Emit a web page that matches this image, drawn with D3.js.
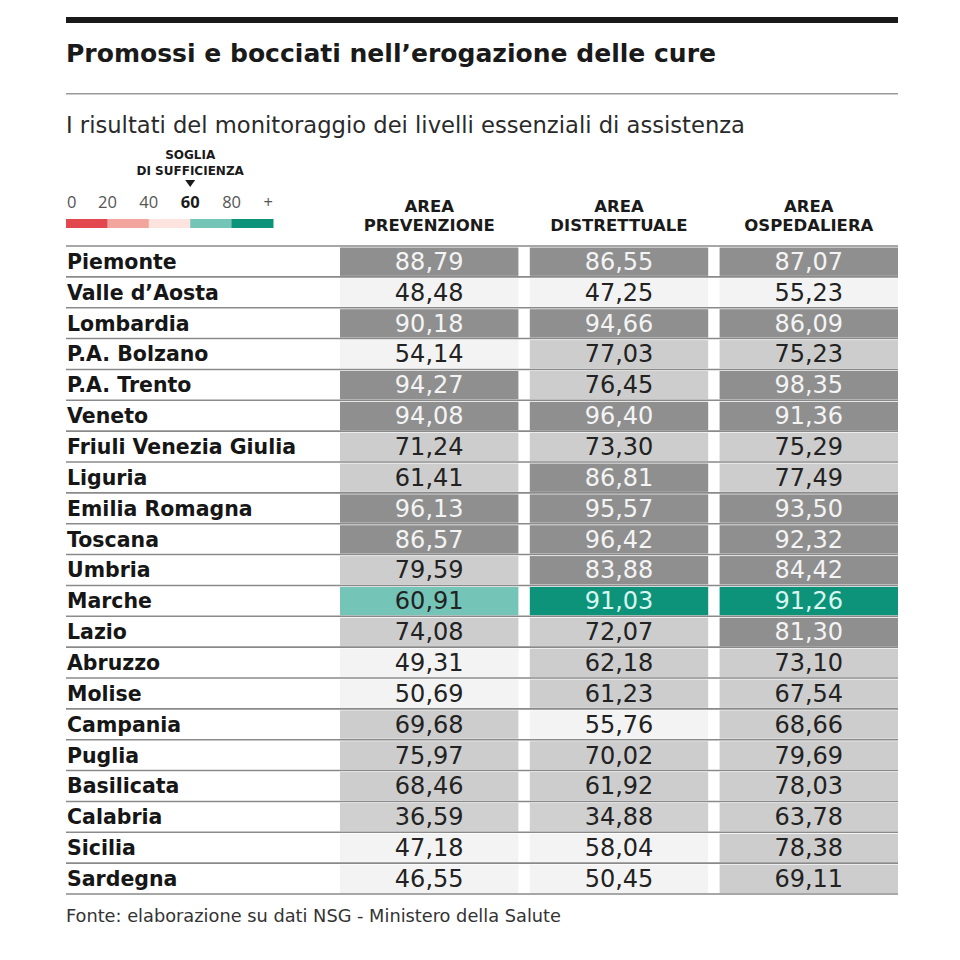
<!DOCTYPE html>
<html>
<head>
<meta charset="utf-8">
<script src="https://cdn.jsdelivr.net/npm/d3@7"></script>
<style>
  body { margin: 0; background: #fff; }
  svg { display: block; }
</style>
</head>
<body>
<div id="chart"></div>
<script>
const regions = ["Piemonte", "Valle d\u2019Aosta", "Lombardia", "P.A. Bolzano", "P.A. Trento", "Veneto",
    "Friuli Venezia Giulia", "Liguria", "Emilia Romagna", "Toscana", "Umbria", "Marche", "Lazio",
    "Abruzzo", "Molise", "Campania", "Puglia", "Basilicata", "Calabria", "Sicilia", "Sardegna"];
const areas = [["AREA", "PREVENZIONE"], ["AREA", "DISTRETTUALE"], ["AREA", "OSPEDALIERA"]];
const prevenzione = [88.79, 48.48, 90.18, 54.14, 94.27, 94.08, 71.24, 61.41, 96.13, 86.57, 79.59,
    60.91, 74.08, 49.31, 50.69, 69.68, 75.97, 68.46, 36.59, 47.18, 46.55];
const distrettuale = [86.55, 47.25, 94.66, 77.03, 76.45, 96.40, 73.30, 86.81, 95.57, 96.42, 83.88,
    91.03, 72.07, 62.18, 61.23, 55.76, 70.02, 61.92, 34.88, 58.04, 50.45];
const ospedaliera = [87.07, 55.23, 86.09, 75.23, 98.35, 91.36, 75.29, 77.49, 93.50, 92.32, 84.42,
    91.26, 81.30, 73.10, 67.54, 68.66, 79.69, 78.03, 63.78, 78.38, 69.11];
const highlighted = "Marche";
const legendLabels = ["0", "20", "40", "60", "80", "+"];
const thresholds = [20, 40, 60, 80];

// colour for the highlighted row, grey shades for the rest (scan of a colour print)
const legendColors = ["#e2484e", "#f2a59d", "#fde4de", "#74c5b8", "#0d937a"];
const greyColors = ["#b8b8b8", "#d0d0d0", "#f3f3f3", "#cdcdcd", "#8f8f8f"];
const colorScale = d3.scaleThreshold().domain(thresholds).range(legendColors);
const greyScale = d3.scaleThreshold().domain(thresholds).range(greyColors);

const it = d3.formatLocale({decimal: ",", thousands: ".", grouping: [3], currency: ["", "\u20ac"]});
const fmt = it.format(".2f");

const W = 960, H = 960;
const left = 66, right = 898;
const svg = d3.select("#chart").append("svg").attr("width", W).attr("height", H);

// header
svg.append("rect").attr("x", left).attr("y", 17).attr("width", right - left).attr("height", 6).attr("fill", "#1a1a1a");
svg.append("text").attr("x", left).attr("y", 62)
    .attr("font-family", "'DejaVu Sans Condensed', 'DejaVu Sans', sans-serif")
    .attr("font-weight", "bold").attr("font-size", 25).attr("fill", "#1a1a1a")
    .attr("textLength", 650).attr("lengthAdjust", "spacingAndGlyphs")
    .text("Promossi e bocciati nell\u2019erogazione delle cure");
svg.append("rect").attr("x", left).attr("y", 93).attr("width", right - left).attr("height", 1.5).attr("fill", "#9a9a9a");
svg.append("text").attr("x", left).attr("y", 133)
    .attr("font-family", "'Liberation Sans Narrow', 'DejaVu Sans Condensed', sans-serif")
    .attr("font-size", 23).attr("fill", "#2a2a2a")
    .attr("textLength", 679).attr("lengthAdjust", "spacingAndGlyphs")
    .text("I risultati del monitoraggio dei livelli essenziali di assistenza");

// legend
const lx = d3.scaleLinear().domain([0, 100]).range([66, 273]);
const legend = svg.append("g");
legend.selectAll("rect").data(legendColors).join("rect")
    .attr("x", (d, i) => lx(i * 20)).attr("y", 219)
    .attr("width", lx(20) - lx(0) + 0.5).attr("height", 9).attr("fill", d => d);
legend.selectAll("text.num").data(legendLabels).join("text").attr("class", "num")
    .attr("x", (d, i) => i === 0 ? lx(0) + 1 : (i === 5 ? lx(100) : lx(i * 20)))
    .attr("y", 208)
    .attr("text-anchor", (d, i) => i === 0 ? "start" : (i === 5 ? "end" : "middle"))
    .attr("font-family", "'Open Sans', sans-serif")
    .attr("font-size", 16.5)
    .attr("font-weight", d => d === "60" ? "bold" : "normal")
    .attr("fill", d => d === "60" ? "#1a1a1a" : "#555")
    .text(d => d);
const sx = lx(60);
legend.append("text").attr("x", sx).attr("y", 159).attr("text-anchor", "middle")
    .attr("font-family", "'DejaVu Sans', sans-serif").attr("font-weight", "bold").attr("font-size", 12)
    .attr("fill", "#1a1a1a").text("SOGLIA");
legend.append("text").attr("x", sx).attr("y", 175).attr("text-anchor", "middle")
    .attr("font-family", "'DejaVu Sans', sans-serif").attr("font-weight", "bold").attr("font-size", 12)
    .attr("fill", "#1a1a1a").text("DI SUFFICIENZA");
legend.append("path")
    .attr("d", `M${sx - 5},180 L${sx + 5},180 L${sx},187 Z`).attr("fill", "#1a1a1a");

// table
const columns = [prevenzione, distrettuale, ospedaliera];
const x = d3.scaleBand().domain(d3.range(3)).range([340, right]).paddingInner(0.06);
const y = d3.scaleBand().domain(regions).range([246, 894]);

const rows = svg.append("g").selectAll("g").data(regions).join("g")
    .attr("transform", d => `translate(0,${y(d)})`);

rows.append("text").attr("x", 67).attr("y", y.bandwidth() / 2 + 7.5)
    .attr("font-family", "'DejaVu Sans', sans-serif").attr("font-weight", "bold").attr("font-size", 20.5)
    .attr("fill", "#161616").text(d => d);

const cells = rows.selectAll("g.cell")
    .data((r, ri) => columns.map((col, ci) => ({region: r, col: ci, value: col[ri]})))
    .join("g").attr("class", "cell");

cells.append("rect")
    .attr("x", d => x(d.col)).attr("y", 1.5)
    .attr("width", x.bandwidth()).attr("height", y.bandwidth() - 2.5)
    .attr("fill", d => d.region === highlighted ? colorScale(d.value) : greyScale(d.value));

cells.append("text")
    .attr("x", d => x(d.col) + x.bandwidth() / 2)
    .attr("y", y.bandwidth() / 2 + 8.5)
    .attr("text-anchor", "middle")
    .attr("font-family", "'DejaVu Sans', sans-serif").attr("font-size", 24)
    .attr("fill", d => {
        if (d.value >= 80) return d.region === highlighted ? "#d8f6ef" : "#f4f4f4";
        return "#222";
    })
    .text(d => fmt(d.value));

// row separators
svg.append("g").selectAll("line").data(regions.concat(["end"])).join("line")
    .attr("x1", left).attr("x2", right)
    .attr("y1", d => d === "end" ? 894 : y(d)).attr("y2", d => d === "end" ? 894 : y(d))
    .attr("stroke", "#8a8a8a").attr("stroke-width", 1.6);

// column headers
const heads = svg.append("g").selectAll("text").data(areas).join("text")
    .attr("x", (d, i) => x(i) + x.bandwidth() / 2)
    .attr("text-anchor", "middle")
    .attr("font-family", "'DejaVu Sans', sans-serif").attr("font-weight", "bold").attr("font-size", 16.5)
    .attr("fill", "#1a1a1a");
heads.append("tspan").attr("x", (d, i) => x(i) + x.bandwidth() / 2).attr("y", 212).text(d => d[0]);
heads.append("tspan").attr("x", (d, i) => x(i) + x.bandwidth() / 2).attr("y", 231).text(d => d[1]);

// source
svg.append("text").attr("x", left).attr("y", 922)
    .attr("font-family", "'Liberation Sans Narrow', 'DejaVu Sans Condensed', sans-serif")
    .attr("font-size", 17).attr("fill", "#333")
    .attr("textLength", 495).attr("lengthAdjust", "spacingAndGlyphs")
    .text("Fonte: elaborazione su dati NSG - Ministero della Salute");
</script>
</body>
</html>
